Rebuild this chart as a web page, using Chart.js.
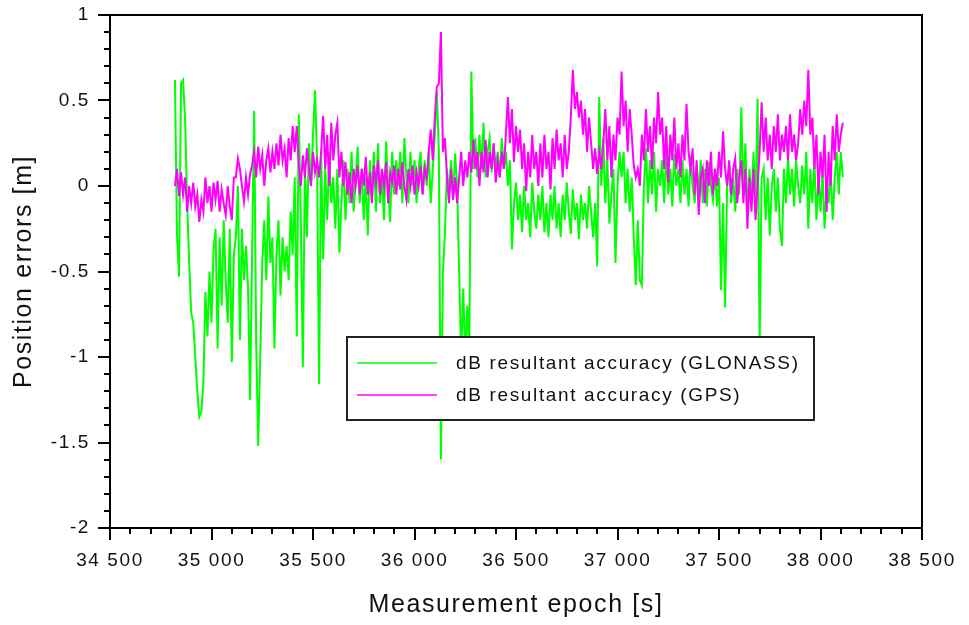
<!DOCTYPE html>
<html>
<head>
<meta charset="utf-8">
<title>Position errors</title>
<script src="https://cdn.jsdelivr.net/npm/chart.js@4.4.1/dist/chart.umd.min.js"></script>
<style>
    html, body { margin: 0; padding: 0; background: #fff; }
    #wrap { width: 969px; height: 625px; }
</style>
</head>
<body>
<div id="wrap"><canvas id="errChart" width="969" height="625"></canvas></div>
<script>
// Epochs: first sample and spacing of the read-off samples [s]
const EPOCH_START = 34820;
const EPOCH_STEP = 10;

// Axis ranges and ticks
const X_MIN = 34500, X_MAX = 38500, X_MAJOR = 500, X_MINOR = 100;
const Y_MIN = -2, Y_MAX = 1, Y_MAJOR = 0.5, Y_MINOR = 0.1;

const seriesNames = ['dB resultant accuracy (GLONASS)', 'dB resultant accuracy (GPS)'];
const seriesColors = ['#00ff00', '#ff00ff'];

// GLONASS position error [m], one value per 10 s
const glonassErr = [
    0.62, -0.29, -0.53, 0.6, 0.62, 0.39, -0.1, -0.45, -0.74, -0.8,
    -1.0, -1.2, -1.35, -1.32, -1.15, -0.62, -0.88, -0.5, -0.8, -0.37,
    -0.25, -0.95, -0.3, -0.7, -0.2, -0.55, -0.8, -0.25, -1.03, -0.4,
    -0.3, 0.0, -0.9, -0.25, -0.55, -0.35, -0.6, -1.25, -0.4, 0.44,
    -0.9, -1.52, -1.0, -0.45, -0.2, -0.55, -0.06, -0.45, -0.3, -0.95,
    -0.4, -0.2, -0.64, -0.3, -0.5, -0.35, -0.55, -0.15, -0.4, 0.05,
    -0.88, 0.42, -0.2, -1.06, 0.1, -0.3, 0.25, 0.0, 0.3, 0.56,
    0.15, -1.16, 0.2, -0.43, 0.1, -0.2, 0.2, -0.1, 0.05, -0.25,
    0.1, -0.39, -0.1, 0.15, -0.2, 0.1, -0.1, 0.2, -0.15, 0.05,
    0.23, -0.1, 0.1, -0.2, 0.05, -0.29, 0.15, -0.05, 0.2, -0.15,
    0.25, -0.1, 0.05, -0.2, 0.26, 0.0, -0.21, 0.2, -0.05, 0.15,
    0.0, 0.2, -0.1, 0.28, 0.05, -0.1, 0.2, 0.0, 0.15, -0.1,
    0.1, 0.2, -0.05, 0.15, 0.0, 0.2, -0.1, 0.1, 0.3, 0.55,
    0.2, -1.6, -0.5, -0.27, 0.1, -0.05, 0.15, -0.08, 0.19, 0.0,
    -0.5, -1.0, -0.6, -1.0, -0.7, -0.95, 0.67, 0.1, 0.28, 0.05,
    0.3, 0.1, 0.37, 0.05, 0.2, 0.28, 0.08, 0.25, 0.1, 0.2,
    0.05, 0.28, 0.1, 0.2, 0.0, 0.15, -0.37, -0.1, 0.02, -0.2,
    -0.05, -0.27, 0.0, -0.2, -0.1, -0.3, 0.02, -0.15, -0.25, -0.05,
    -0.2, 0.0, -0.27, -0.1, -0.3, -0.05, -0.2, 0.0, -0.25, -0.1,
    -0.3, -0.05, -0.2, 0.02, -0.15, -0.28, -0.02, -0.2, -0.1, -0.31,
    -0.05, -0.2, -0.1, -0.25, 0.0, -0.15, -0.3, -0.1, -0.47, 0.52,
    0.0, 0.28, -0.1, 0.15, -0.22, -0.05, 0.1, -0.45, 0.0, 0.2,
    0.05, 0.2, -0.1, 0.1, -0.15, 0.05, -0.3, -0.58, -0.2, -0.55,
    -0.58, 0.0, 0.22, -0.1, 0.15, -0.05, 0.2, -0.15, 0.1, 0.0,
    0.15, -0.1, 0.2, -0.05, 0.1, -0.12, 0.19, 0.0, 0.1, -0.1,
    0.15, -0.05, 0.1, -0.12, 0.18, 0.0, -0.1, 0.12, -0.05, 0.15,
    -0.1, 0.1, -0.12, 0.14, 0.0, -0.08, 0.1, -0.12, 0.05, -0.61,
    -0.1, -0.71, 0.0, 0.12, -0.1, 0.05, -0.15, 0.1, -0.05, 0.46,
    -0.05, 0.25, -0.18, 0.1, -0.1, 0.2, -0.15, 0.51, -0.95, 0.05,
    0.1, -0.2, 0.05, -0.29, 0.0, 0.1, -0.15, 0.05, -0.25, -0.35,
    0.1, -0.1, 0.17, -0.05, 0.1, -0.12, 0.15, 0.0, -0.1, 0.12,
    -0.05, 0.2, -0.25, 0.1, -0.1, 0.15, -0.2, 0.05, -0.15, 0.1,
    -0.25, 0.0, -0.1, 0.1, -0.2, 0.05, 0.2, -0.05, 0.2, 0.05
];

// GPS position error [m], one value per 10 s
const gpsErr = [
    0.0, 0.1, -0.06, 0.08, -0.05, 0.05, -0.15, 0.0, -0.1, 0.02,
    -0.12, -0.05, -0.21, -0.08, -0.15, 0.05, -0.1, 0.0, -0.15, 0.02,
    -0.08, 0.03, -0.15, -0.02, -0.1, -0.17, 0.0, -0.12, -0.2, 0.05,
    0.05, 0.16, 0.1, 0.0, -0.09, 0.05, -0.05, 0.07, 0.12, 0.2,
    0.05, 0.23, 0.1, 0.18, 0.0, 0.15, 0.22, 0.08, 0.2, 0.1,
    0.25, 0.12, 0.3, 0.15, 0.22, 0.05, 0.28, 0.15, 0.35, 0.2,
    0.35, 0.12, 0.0, 0.18, 0.05, 0.22, 0.1, 0.0, 0.2, 0.08,
    0.15, 0.05, 0.2, 0.41, 0.1, 0.3, 0.0, 0.37, 0.15, 0.3,
    0.37, 0.05, 0.2, 0.0, 0.14, -0.05, 0.08, -0.1, 0.1, 0.0,
    0.12, -0.05, 0.1, 0.0, 0.17, -0.05, 0.08, -0.1, 0.12, 0.02,
    0.15, -0.05, 0.1, 0.0, 0.14, -0.1, 0.08, 0.02, 0.12, -0.05,
    0.1, -0.02, 0.14, 0.0, -0.08, 0.1, 0.0, 0.12, -0.05, 0.08,
    0.0, 0.12, -0.05, 0.1, 0.05, 0.2, 0.33, 0.15, 0.4, 0.58,
    0.6, 0.9, 0.2, 0.28, 0.05, -0.1, 0.1, -0.08, 0.05, -0.1,
    0.05, 0.2, 0.0, 0.15, 0.05, 0.2, 0.08, 0.27, 0.1, 0.2,
    0.0, 0.2, 0.08, 0.27, 0.05, 0.2, 0.1, 0.25, 0.02, 0.15,
    0.05, 0.2, 0.1, 0.3, 0.52, 0.25, 0.45, 0.14, 0.35, 0.2,
    0.33, 0.1, 0.25, -0.03, 0.2, 0.05, 0.3, 0.1, 0.2, 0.0,
    0.25, 0.05, 0.3, 0.1, 0.2, -0.02, 0.28, 0.1, 0.33, 0.15,
    0.25, 0.05, 0.3, 0.1, 0.2, 0.4, 0.68, 0.45, 0.55, 0.4,
    0.5, 0.3, 0.45, 0.2, 0.4, 0.25, 0.1, 0.22, 0.07, 0.2,
    0.1, 0.25, 0.45, 0.15, 0.35, 0.05, 0.3, 0.15, 0.4, 0.3,
    0.67, 0.35, 0.5, 0.2, 0.45, 0.3, 0.12, 0.05, 0.1, 0.0,
    0.3, 0.15, 0.45, 0.2, 0.35, 0.1, 0.4, 0.25, 0.55, 0.3,
    0.4, 0.1, 0.35, 0.02, 0.3, 0.15, 0.4, 0.1, 0.25, 0.05,
    0.3, 0.15, 0.48, 0.2, 0.1, 0.22, -0.05, 0.15, -0.17, 0.05,
    0.1, -0.1, 0.15, 0.0, 0.2, -0.05, 0.1, 0.0, 0.2, 0.05,
    0.32, 0.1, 0.0, 0.15, -0.05, 0.1, 0.16, -0.1, 0.05, 0.15,
    -0.1, 0.1, -0.25, 0.05, -0.15, 0.1, -0.2, 0.0, 0.2, 0.49,
    0.2, 0.4, 0.15, 0.3, 0.1, 0.35, 0.2, 0.42, 0.15, 0.3,
    0.2, 0.35, 0.15, 0.42, 0.2, 0.3, 0.15, 0.25, 0.45, 0.3,
    0.5, 0.35, 0.68, 0.3, 0.4, 0.1, 0.3, -0.05, 0.2, 0.05,
    0.3, -0.15, 0.2, 0.0, 0.35, 0.15, 0.42, 0.2, 0.3, 0.37
];

const TEXT_COLOR = '#111';
const FONT_FAMILY = '"Liberation Sans", Arial, sans-serif';

function toPoints(values) {
    return values.map((v, i) => ({ x: EPOCH_START + i * EPOCH_STEP, y: v }));
}

function formatThousands(v) {
    return String(v).replace(/\B(?=(\d{3})+(?!\d))/g, ' ');
}

// Scilab-like frame with outward major and minor ticks
const frameTicks = {
    id: 'frameTicks',
    beforeDraw(chart) {
        chart.ctx.letterSpacing = '1.6px';
    },
    afterDatasetsDraw(chart) {
        const { ctx, chartArea: a, scales: { x, y } } = chart;
        ctx.save();
        ctx.strokeStyle = '#000';
        ctx.lineWidth = 2;
        ctx.strokeRect(a.left, a.top, a.right - a.left, a.bottom - a.top);
        ctx.beginPath();
        for (let i = 0; i <= Math.round((X_MAX - X_MIN) / X_MINOR); i++) {
            const v = X_MIN + i * X_MINOR;
            const px = Math.round(x.getPixelForValue(v));
            const len = (i % (X_MAJOR / X_MINOR) === 0) ? 12 : 6;
            ctx.moveTo(px, a.bottom);
            ctx.lineTo(px, a.bottom + len);
        }
        for (let i = 0; i <= Math.round((Y_MAX - Y_MIN) / Y_MINOR); i++) {
            const v = Y_MIN + i * Y_MINOR;
            const py = Math.round(y.getPixelForValue(v));
            const len = (i % Math.round(Y_MAJOR / Y_MINOR) === 0) ? 12 : 6;
            ctx.moveTo(a.left, py);
            ctx.lineTo(a.left - len, py);
        }
        ctx.stroke();
        ctx.restore();
    }
};

// Boxed legend sitting inside the plot, opaque over the curves
const boxLegend = {
    id: 'boxLegend',
    afterDraw(chart) {
        const { ctx, chartArea: a } = chart;
        const bx = a.left + 237, by = a.top + 322, bw = 467, bh = 83;
        ctx.save();
        ctx.fillStyle = '#fff';
        ctx.fillRect(bx, by, bw, bh);
        ctx.strokeStyle = '#222';
        ctx.lineWidth = 2;
        ctx.strokeRect(bx, by, bw, bh);
        ctx.font = '19px ' + FONT_FAMILY;
        ctx.letterSpacing = '1.65px';
        ctx.textBaseline = 'middle';
        ctx.textAlign = 'left';
        seriesNames.forEach((name, i) => {
            const ly = by + 26 + i * 32;
            ctx.strokeStyle = seriesColors[i];
            ctx.lineWidth = 1.5;
            ctx.beginPath();
            ctx.moveTo(bx + 10, ly);
            ctx.lineTo(bx + 90, ly);
            ctx.stroke();
            ctx.fillStyle = TEXT_COLOR;
            ctx.fillText(name, bx + 109, ly + 1);
        });
        ctx.restore();
    }
};

const ctx = document.getElementById('errChart');
new Chart(ctx, {
    type: 'line',
    data: {
        datasets: [
            {
                label: seriesNames[0],
                data: toPoints(glonassErr),
                borderColor: seriesColors[0],
                borderWidth: 2,
                pointRadius: 0,
                tension: 0,
                order: 2
            },
            {
                label: seriesNames[1],
                data: toPoints(gpsErr),
                borderColor: seriesColors[1],
                borderWidth: 2,
                pointRadius: 0,
                tension: 0,
                order: 1
            }
        ]
    },
    options: {
        responsive: false,
        animation: false,
        layout: { padding: { top: 15, right: 47, left: 0, bottom: 0 } },
        scales: {
            x: {
                type: 'linear',
                min: X_MIN,
                max: X_MAX,
                afterFit: (s) => {
                    s.height = 97;
                    s.paddingLeft = 0;
                    s.paddingRight = 0;
                },
                afterBuildTicks: (s) => {
                    s.ticks = [];
                    for (let v = X_MIN; v <= X_MAX; v += X_MAJOR) s.ticks.push({ value: v });
                },
                grid: { display: false, drawTicks: false },
                border: { display: false },
                ticks: {
                    padding: 21,
                    maxRotation: 0,
                    autoSkip: false,
                    color: TEXT_COLOR,
                    font: { family: FONT_FAMILY, size: 19 },
                    callback: (v) => formatThousands(v)
                },
                title: {
                    display: true,
                    text: 'Measurement epoch [s]',
                    color: TEXT_COLOR,
                    font: { family: FONT_FAMILY, size: 25 },
                    padding: { top: 0, bottom: 5 }
                }
            },
            y: {
                min: Y_MIN,
                max: Y_MAX,
                afterFit: (s) => {
                    s.width = 110;
                    s.paddingTop = 0;
                    s.paddingBottom = 0;
                },
                afterBuildTicks: (s) => {
                    s.ticks = [];
                    for (let i = 0; i <= Math.round((Y_MAX - Y_MIN) / Y_MAJOR); i++) {
                        s.ticks.push({ value: Y_MIN + i * Y_MAJOR });
                    }
                },
                grid: { display: false, drawTicks: false },
                border: { display: false },
                ticks: {
                    padding: 20,
                    color: TEXT_COLOR,
                    font: { family: FONT_FAMILY, size: 19 },
                    callback: (v) => String(Math.round(v * 10) / 10)
                },
                title: {
                    display: true,
                    text: 'Position errors [m]',
                    color: TEXT_COLOR,
                    font: { family: FONT_FAMILY, size: 25 },
                    padding: { top: 9, bottom: 0 }
                }
            }
        },
        plugins: {
            legend: { display: false },
            tooltip: { enabled: false }
        }
    },
    plugins: [frameTicks, boxLegend]
});
</script>
</body>
</html>
